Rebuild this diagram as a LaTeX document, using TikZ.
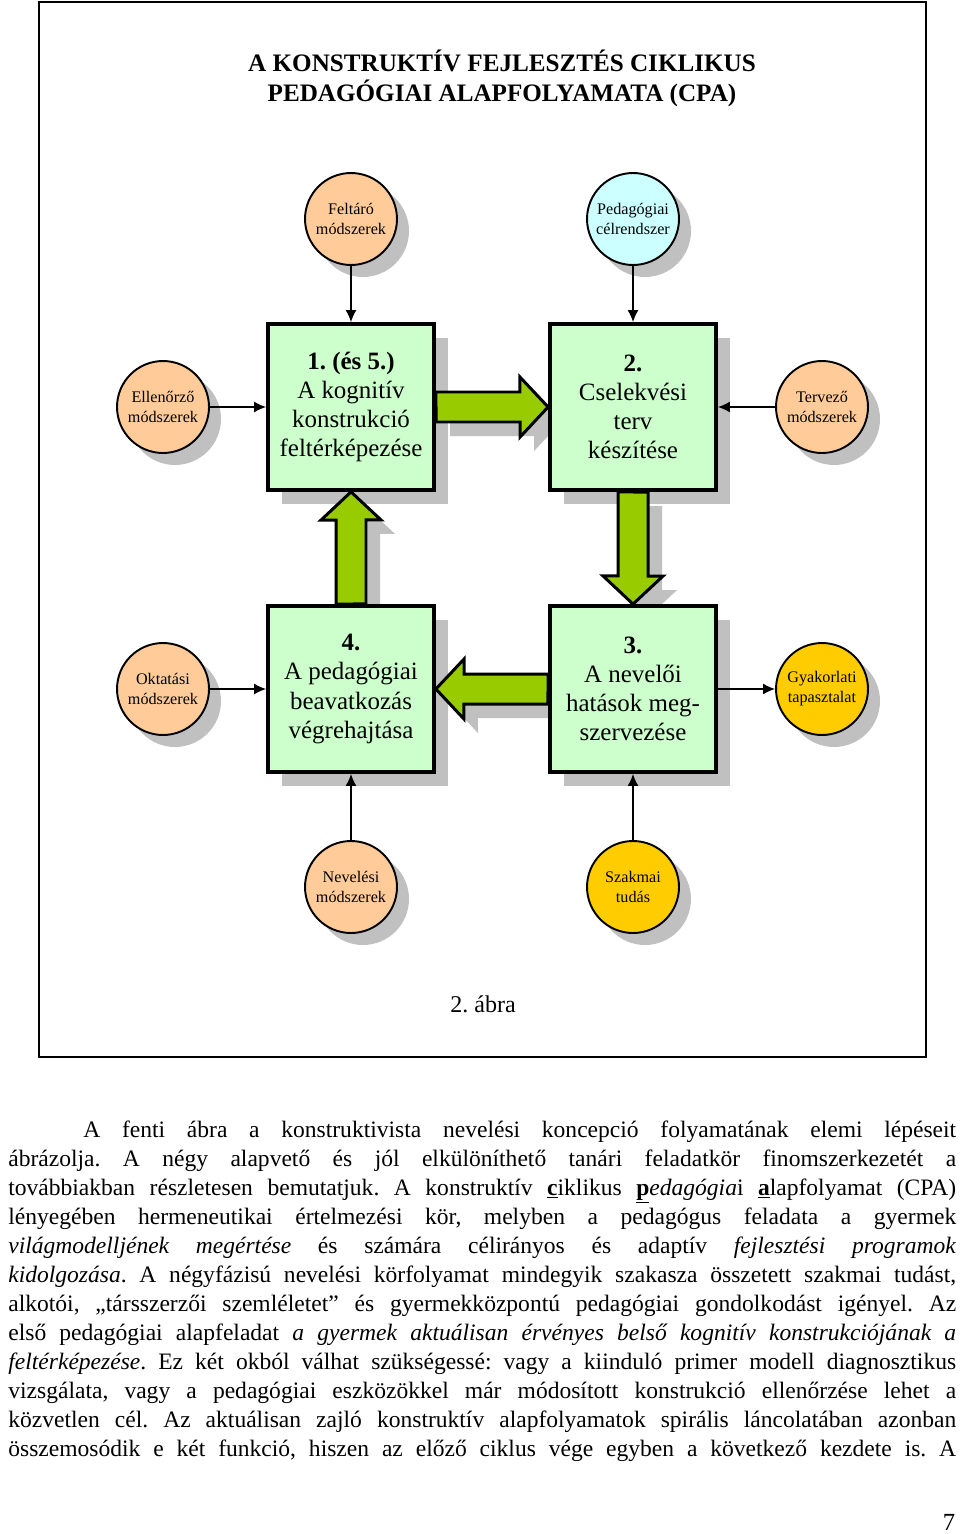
\documentclass[tikz,border=0pt]{standalone}
\usepackage{fontspec}
\setmainfont{Liberation Serif}
\usetikzlibrary{shadows,arrows.meta}
\frenchspacing

\definecolor{peach}{HTML}{FFCC99}
\definecolor{skyish}{HTML}{CCFFFF}
\definecolor{golden}{HTML}{FFCC00}
\definecolor{boxgreen}{HTML}{CCFFCC}
\definecolor{arrowgreen}{HTML}{99CC00}
\definecolor{shadowgray}{HTML}{C0C0C0}

\pgfdeclarelayer{bg}
\pgfsetlayers{bg,main}

% fat green arrow with its grey shadow underneath
\newcommand{\fatarrow}[1]{%
	\begin{pgfonlayer}{bg}
		\fill[shadowgray, transform canvas={shift={(14,14)}}] #1;
	\end{pgfonlayer}
	\draw[fatarrow] #1;}

\begin{document}
\begin{tikzpicture}[x=0.02cm, y=-0.02cm,
		circ/.style={circle, draw, line width=1.1pt, minimum size=1.84cm, inner sep=0pt,
			align=center, font=\fontsize{9.2}{11.4}\selectfont,
			drop shadow={shadow xshift=0.24cm, shadow yshift=-0.24cm, fill=shadowgray, opacity=1}},
		fazis/.style={rectangle, draw, fill=boxgreen, line width=2.2pt, minimum size=3.32cm,
			inner sep=0pt, align=center, font=\fontsize{14.2}{16.6}\selectfont,
			drop shadow={shadow xshift=0.28cm, shadow yshift=-0.28cm, fill=shadowgray, opacity=1}},
		fatarrow/.style={fill=arrowgreen, draw, line width=1.7pt, line join=miter},
		conn/.style={-{Latex[length=2.4mm, width=2.2mm]}, line width=0.85pt},
		bodyline/.style={anchor=base west, inner sep=0pt, font=\fontsize{13.4}{16.5}\selectfont}]
	\useasboundingbox (0,0) rectangle (960,1534);

	% frame and title
	\draw[line width=1.2pt] (39,2) rectangle (926,1057);
	\node[align=center, font=\bfseries\fontsize{14.3}{17}\selectfont] (cim) at (502,78)
		{A KONSTRUKTÍV FEJLESZTÉS CIKLIKUS\\PEDAGÓGIAI ALAPFOLYAMATA (CPA)};

	% the four phases
	\node[fazis] (fazis1) at (351,407) {\textbf{1. (és 5.)}\\A kognitív\\konstrukció\\feltérképezése};
	\node[fazis] (fazis2) at (633,407) {\textbf{2.}\\Cselekvési\\terv\\készítése};
	\node[fazis] (fazis3) at (633,689) {\textbf{3.}\\A nevelői\\hatások meg-\\szervezése};
	\node[fazis] (fazis4) at (351,689) {\textbf{4.}\\A pedagógiai\\beavatkozás\\végrehajtása};

	% resources round them
	\node[circ, fill=peach] (feltaro) at (351,219) {Feltáró\\módszerek};
	\node[circ, fill=skyish] (celrendszer) at (633,219) {Pedagógiai\\célrendszer};
	\node[circ, fill=peach] (ellenorzo) at (163,407) {Ellenőrző\\módszerek};
	\node[circ, fill=peach] (tervezo) at (822,407) {Tervező\\módszerek};
	\node[circ, fill=peach] (oktatasi) at (163,689) {Oktatási\\módszerek};
	\node[circ, fill=golden] (gyakorlati) at (822,689) {Gyakorlati\\tapasztalat};
	\node[circ, fill=peach] (nevelesi) at (351,887) {Nevelési\\módszerek};
	\node[circ, fill=golden] (szakmai) at (633,887) {Szakmai\\tudás};

	% the cycle
	\fatarrow{([yshift=0.3cm]fazis1.east) -- ++(84,0) -- ++(0,-15) -- (fazis2.west)
		-- ++(-28,30) -- ++(0,-15) -- ++(-84,0) -- cycle}
	\fatarrow{([xshift=-0.3cm]fazis2.south) -- ++(0,84) -- ++(-15,0) -- (fazis3.north)
		-- ++(30,-28) -- ++(-15,0) -- ++(0,-84) -- cycle}
	\fatarrow{([yshift=0.3cm]fazis3.west) -- ++(-84,0) -- ++(0,-15) -- (fazis4.east)
		-- ++(28,30) -- ++(0,-15) -- ++(84,0) -- cycle}
	\fatarrow{([xshift=-0.3cm]fazis4.north) -- ++(0,-84) -- ++(-15,0) -- (fazis1.south)
		-- ++(30,28) -- ++(-15,0) -- ++(0,84) -- cycle}

	\draw[conn] (feltaro) -- (fazis1);
	\draw[conn] (celrendszer) -- (fazis2);
	\draw[conn] (ellenorzo) -- (fazis1);
	\draw[conn] (tervezo) -- (fazis2);
	\draw[conn] (oktatasi) -- (fazis4);
	\draw[conn] (fazis3) -- (gyakorlati);
	\draw[conn] (nevelesi) -- (fazis4);
	\draw[conn] (szakmai) -- (fazis3);

	\node[font=\fontsize{13.7}{17}\selectfont] (abra) at (483,1004) {2. ábra};

	% running text under the figure
	\node[bodyline] (sor0) at (83,1137) {\makebox[17.46cm][s]{A fenti ábra a konstruktivista nevelési koncepció folyamatának elemi lépéseit}};
	\foreach \txt [count=\i] in {
		{ábrázolja. A négy alapvető és jól elkülöníthető tanári feladatkör finomszerkezetét a},
		{továbbiakban részletesen bemutatjuk. A konstruktív \textbf{\underline{c}}iklikus \textbf{\underline{p}}\textit{edagógia}i \textbf{\underline{a}}lapfolyamat (CPA)},
		{lényegében hermeneutikai értelmezési kör, melyben a pedagógus feladata a gyermek},
		{\textit{világmodelljének megértése} és számára célirányos és adaptív \textit{fejlesztési programok}},
		{\textit{kidolgozása}. A négyfázisú nevelési körfolyamat mindegyik szakasza összetett szakmai tudást,},
		{alkotói, „társszerzői szemléletet” és gyermekközpontú pedagógiai gondolkodást igényel. Az},
		{első pedagógiai alapfeladat \textit{a gyermek aktuálisan érvényes belső kognitív konstrukciójának a}},
		{\textit{feltérképezése}. Ez két okból válhat szükségessé: vagy a kiinduló primer modell diagnosztikus},
		{vizsgálata, vagy a pedagógiai eszközökkel már módosított konstrukció ellenőrzése lehet a},
		{közvetlen cél. Az aktuálisan zajló konstruktív alapfolyamatok spirális láncolatában azonban},
		{összemosódik e két funkció, hiszen az előző ciklus vége egyben a következő kezdete is. A}}
		\node[bodyline] (sor\i) at (8,{1137+29*\i}) {\makebox[18.96cm][s]{\txt}};

	\node[font=\fontsize{14}{17}\selectfont, anchor=base] (oldal) at (949,1530) {7};
\end{tikzpicture}
\end{document}
